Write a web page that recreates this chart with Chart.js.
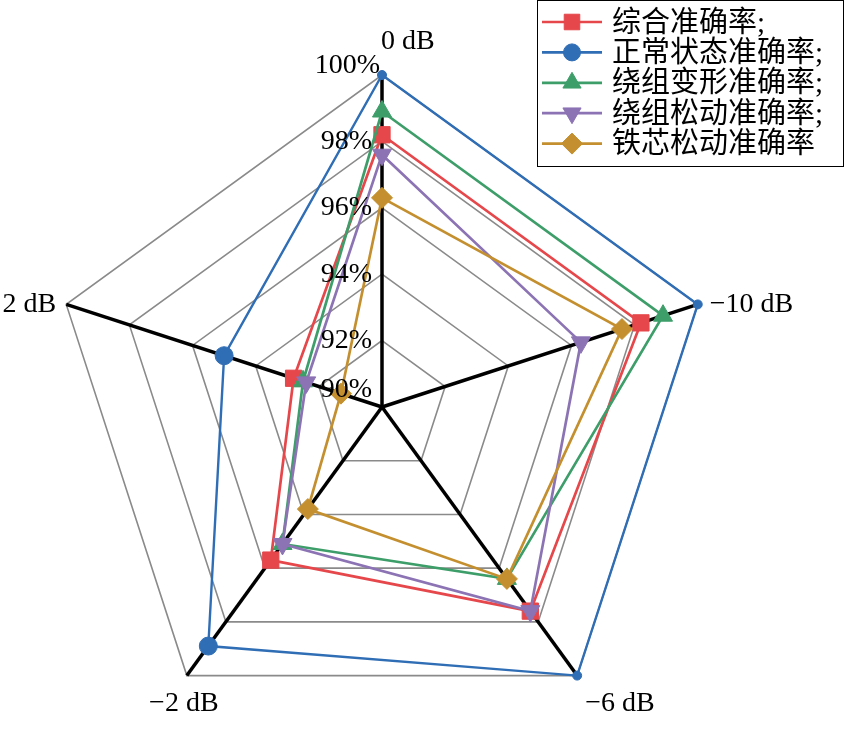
<!DOCTYPE html>
<html>
<head>
<meta charset="utf-8">
<script src="https://cdn.jsdelivr.net/npm/chart.js@4"></script>
<style>
html,body{margin:0;padding:0;background:#fff;}
#wrap{width:844px;height:741px;}
</style>
</head>
<body>
<div id="wrap"><canvas id="c" width="844" height="741"></canvas></div>
<script>
// ---- data ----
const categories = ['0 dB', '\u221210 dB', '\u22126 dB', '\u22122 dB', '2 dB'];
const seriesNames = ['综合准确率;', '正常状态准确率;', '绕组变形准确率;', '绕组松动准确率;', '铁芯松动准确率'];
const overallAcc   = [98.2, 98.2, 97.6, 95.7, 92.8];
const normalAcc    = [100.0, 100.0, 100.0, 98.9, 95.0];
const deformAcc    = [98.9, 98.9, 96.4, 95.1, 92.5];
const windLooseAcc = [97.6, 96.3, 97.6, 95.1, 92.4];
const coreLooseAcc = [96.3, 97.6, 96.4, 93.8, 91.3];
const tickValues = [90, 92, 94, 96, 98, 100];
const tickLabels = ['90%', '92%', '94%', '96%', '98%', '100%'];

const colors = ['#E5474B', '#2F6DB5', '#3E9E6A', '#8C73B4', '#C4902F'];
const styles = [
  {pointStyle: 'rect', radius: 11.5, rotation: 0},
  {pointStyle: 'circle', radius: 9, rotation: 0},
  {pointStyle: 'triangle', radius: 11, rotation: 0},
  {pointStyle: 'triangle', radius: 11, rotation: 180},
  {pointStyle: 'rectRot', radius: 10.5, rotation: 0}
];
const allSeries = [overallAcc, normalAcc, deformAcc, windLooseAcc, coreLooseAcc];

const datasets = allSeries.map((vals, i) => {
  let radius = styles[i].radius;
  if (i === 1) radius = vals.map(v => v >= 100 ? 4.5 : styles[i].radius);
  return {
    label: seriesNames[i],
    data: vals,
    borderColor: colors[i],
    backgroundColor: colors[i],
    borderWidth: i === 1 ? 2.4 : 2.7,
    fill: false,
    tension: 0,
    pointStyle: styles[i].pointStyle,
    pointRotation: styles[i].rotation,
    pointRadius: radius,
    pointHoverRadius: radius,
    pointBackgroundColor: colors[i],
    pointBorderColor: colors[i],
    pointBorderWidth: 1,
    order: 5 - i
  };
});

const serif = '"Liberation Serif", "Times New Roman", serif';

const labelsPlugin = {
  id: 'customLabels',
  afterDraw(chart) {
    const ctx = chart.ctx;
    const s = chart.scales.r;
    ctx.save();
    ctx.fillStyle = '#000';
    ctx.font = '28px ' + serif;
    // tick labels
    tickValues.forEach((v, i) => {
      const d = s.getDistanceFromCenterForValue(v);
      let y = s.yCenter - d;
      let x = s.xCenter - 10;
      if (i === 0) y -= 17;
      if (i === tickValues.length - 1) { y -= 9; x = s.xCenter - 2; }
      ctx.textAlign = 'right';
      ctx.textBaseline = 'middle';
      ctx.fillText(tickLabels[i], x, y);
    });
    // point labels
    const offs = [
      {dx: -1, dy: -26, align: 'left'},
      {dx: 12, dy: 8, align: 'left'},
      {dx: 8, dy: 35, align: 'left'},
      {dx: -3, dy: 35, align: 'center'},
      {dx: -10, dy: 8, align: 'right'}
    ];
    ctx.textBaseline = 'alphabetic';
    categories.forEach((lab, i) => {
      const p = s.getPointPosition(i, s.drawingArea);
      ctx.textAlign = offs[i].align;
      ctx.fillText(lab, p.x + offs[i].dx, p.y + offs[i].dy);
    });
    // legend
    const bx = 537.5, by = 0.5, bw = 306, bh = 166;
    ctx.fillStyle = '#fff';
    ctx.fillRect(bx, by, bw, bh);
    ctx.strokeStyle = '#000';
    ctx.lineWidth = 1;
    ctx.strokeRect(bx, by, bw, bh);
    ctx.font = '29px "Liberation Serif", "Noto Sans CJK SC", serif';
    ctx.textAlign = 'left';
    ctx.textBaseline = 'middle';
    seriesNames.forEach((name, i) => {
      const y = 22 + i * 30.4;
      ctx.strokeStyle = colors[i];
      ctx.lineWidth = 2.7;
      ctx.beginPath();
      ctx.moveTo(542, y);
      ctx.lineTo(602, y);
      ctx.stroke();
      drawMarker(ctx, styles[i].pointStyle, styles[i].rotation, 572, y, i === 0 ? 11 : (i === 1 ? 8.5 : 10.5), colors[i]);
      ctx.fillStyle = '#000';
      ctx.fillText(name, 612, y + 2);
    });
    ctx.restore();
  }
};

function drawMarker(ctx, style, rot, x, y, r, color) {
  ctx.save();
  ctx.fillStyle = color;
  ctx.strokeStyle = color;
  ctx.lineWidth = 1;
  ctx.beginPath();
  if (style === 'rect') {
    const h = r * Math.SQRT1_2;
    ctx.rect(x - h, y - h, 2 * h, 2 * h);
  } else if (style === 'circle') {
    ctx.arc(x, y, r, 0, Math.PI * 2);
  } else if (style === 'triangle') {
    const a0 = (rot - 90) * Math.PI / 180;
    for (let k = 0; k < 3; k++) {
      const a = a0 + k * 2 * Math.PI / 3;
      const px = x + Math.cos(a) * r, py = y + Math.sin(a) * r;
      if (k === 0) ctx.moveTo(px, py); else ctx.lineTo(px, py);
    }
    ctx.closePath();
  } else if (style === 'rectRot') {
    ctx.moveTo(x, y - r); ctx.lineTo(x + r, y); ctx.lineTo(x, y + r); ctx.lineTo(x - r, y);
    ctx.closePath();
  }
  ctx.fill();
  ctx.stroke();
  ctx.restore();
}

new Chart(document.getElementById('c'), {
  type: 'radar',
  data: { labels: categories, datasets: datasets },
  options: {
    responsive: false,
    devicePixelRatio: 1,
    animation: false,
    layout: { padding: { left: 50, right: 130, top: 75, bottom: 2 } },
    plugins: { legend: { display: false }, tooltip: { enabled: false } },
    elements: { line: { tension: 0 } },
    scales: {
      r: {
        min: 90,
        max: 100,
        startAngle: 0,
        ticks: { display: false, stepSize: 2 },
        pointLabels: { display: false },
        grid: { circular: false, color: '#8a8a8a', lineWidth: 1.6 },
        angleLines: { color: '#000', lineWidth: 3.5 }
      }
    }
  },
  plugins: [labelsPlugin]
});
</script>
</body>
</html>
